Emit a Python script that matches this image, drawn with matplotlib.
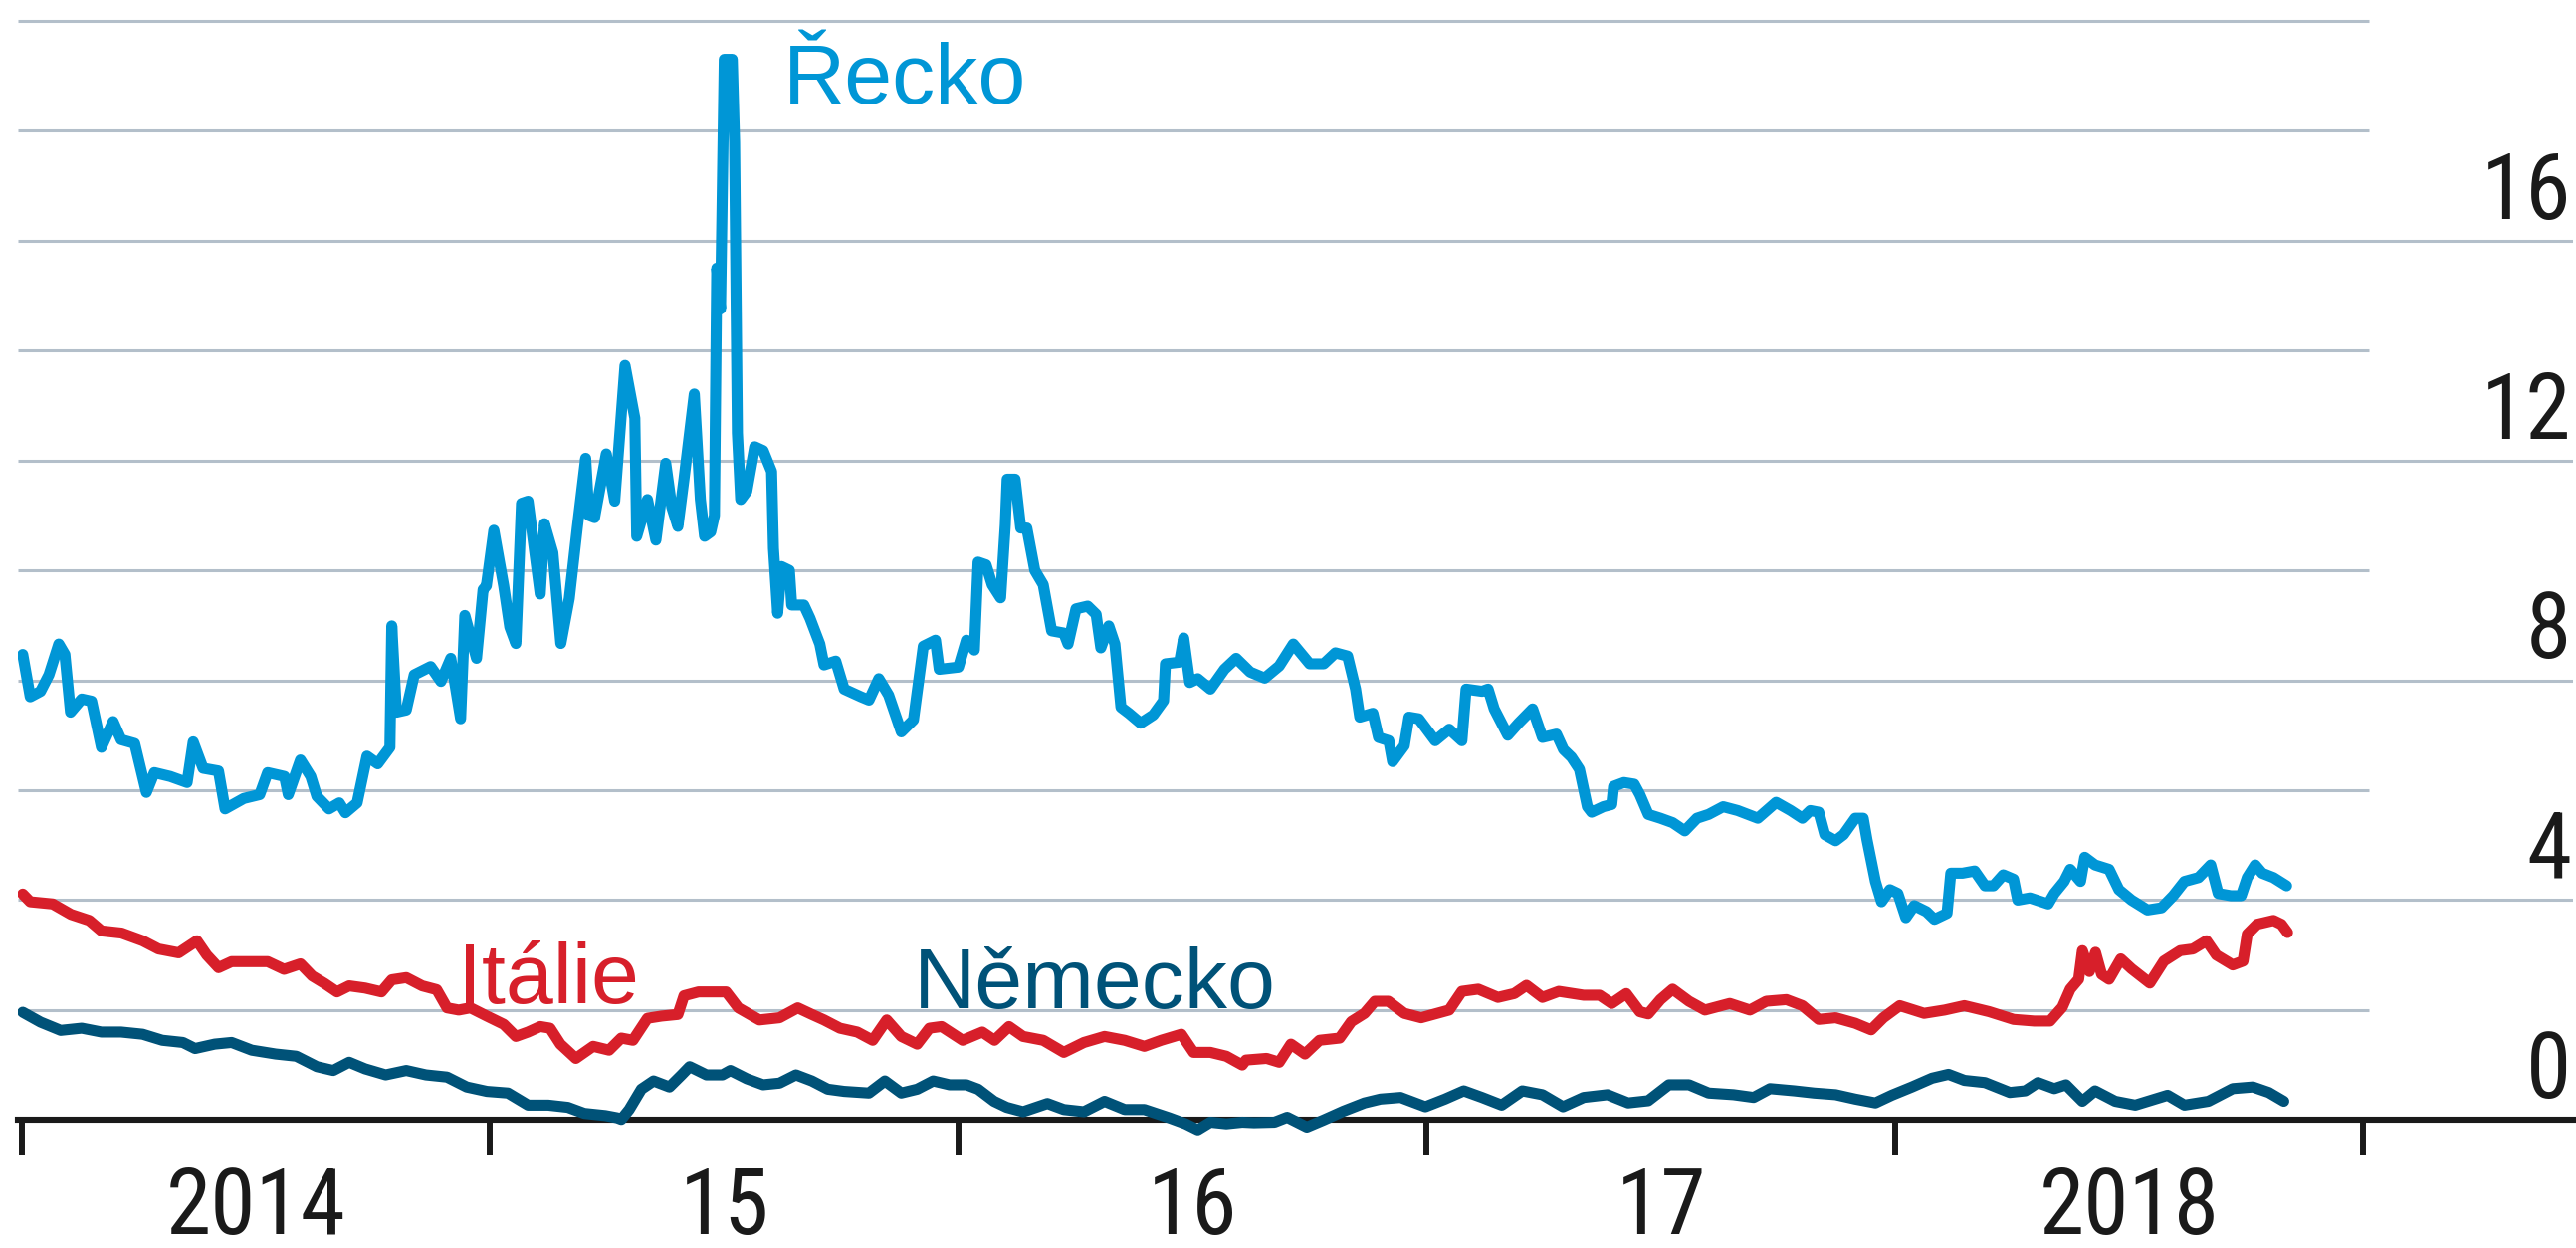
import matplotlib
matplotlib.use("Agg")
import matplotlib.pyplot as plt
from matplotlib import font_manager
from matplotlib.ticker import FixedLocator, NullFormatter, FixedFormatter

# ---------------------------------------------------------------- data
# time in years since 1 Jan 2014, yields in %
greece_t = [0.002, 0.018, 0.040, 0.058, 0.079, 0.092, 0.104, 0.128, 0.149, 0.170,
            0.195, 0.212, 0.241, 0.266, 0.283, 0.317, 0.353, 0.366, 0.387, 0.420,
            0.434, 0.474, 0.508, 0.525, 0.561, 0.569, 0.595, 0.617, 0.630, 0.656,
            0.678, 0.691, 0.716, 0.737, 0.760, 0.786, 0.790, 0.800, 0.821, 0.838,
            0.873, 0.895, 0.916, 0.937, 0.946, 0.971, 0.985, 0.992, 1.008, 1.029,
            1.042, 1.055, 1.067, 1.081, 1.107, 1.116, 1.134, 1.151, 1.169, 1.186,
            1.204, 1.211, 1.223, 1.248, 1.266, 1.288, 1.309, 1.313, 1.336, 1.354,
            1.375, 1.388, 1.401, 1.414, 1.436, 1.449, 1.458, 1.471, 1.479, 1.484,
            1.492, 1.500, 1.517, 1.522, 1.528, 1.535, 1.548, 1.565, 1.583, 1.601,
            1.605, 1.614, 1.622, 1.639, 1.644, 1.670, 1.683, 1.704, 1.713, 1.738,
            1.756, 1.792, 1.809, 1.830, 1.851, 1.878, 1.904, 1.925, 1.951, 1.959,
            2.000, 2.017, 2.034, 2.042, 2.059, 2.072, 2.090, 2.100, 2.104, 2.121,
            2.133, 2.146, 2.163, 2.181, 2.199, 2.225, 2.234, 2.251, 2.276, 2.294,
            2.304, 2.321, 2.334, 2.347, 2.364, 2.389, 2.416, 2.438, 2.442, 2.472,
            2.481, 2.494, 2.511, 2.538, 2.568, 2.593, 2.623, 2.654, 2.685, 2.715,
            2.750, 2.780, 2.805, 2.831, 2.848, 2.857, 2.885, 2.897, 2.919, 2.927,
            2.952, 2.962, 2.983, 3.018, 3.048, 3.075, 3.084, 3.118, 3.131, 3.144,
            3.173, 3.196, 3.226, 3.247, 3.277, 3.292, 3.309, 3.326, 3.343, 3.352,
            3.377, 3.395, 3.399, 3.421, 3.443, 3.455, 3.473, 3.499, 3.525, 3.551,
            3.577, 3.602, 3.633, 3.664, 3.707, 3.746, 3.777, 3.802, 3.819, 3.837,
            3.850, 3.873, 3.890, 3.915, 3.932, 3.940, 3.958, 3.971, 3.989, 4.006,
            4.023, 4.041, 4.067, 4.084, 4.111, 4.119, 4.144, 4.170, 4.192, 4.210,
            4.231, 4.253, 4.262, 4.288, 4.327, 4.340, 4.361, 4.374, 4.396, 4.405,
            4.427, 4.457, 4.478, 4.505, 4.539, 4.569, 4.594, 4.618, 4.648, 4.674,
            4.690, 4.717, 4.739, 4.752, 4.769, 4.784, 4.808, 4.836]
greece_y = [8.47, 7.70, 7.80, 8.10, 8.66, 8.47, 7.42, 7.66, 7.62, 6.78,
            7.25, 6.92, 6.85, 5.96, 6.32, 6.25, 6.14, 6.88, 6.40, 6.35,
            5.66, 5.85, 5.92, 6.32, 6.25, 5.92, 6.55, 6.25, 5.89, 5.66,
            5.77, 5.59, 5.77, 6.62, 6.48, 6.78, 8.99, 7.42, 7.46, 8.10,
            8.25, 7.98, 8.40, 7.30, 9.18, 8.40, 9.65, 9.72, 10.73, 9.72,
            8.97, 8.67, 11.22, 11.26, 9.57, 10.85, 10.32, 8.67, 9.49, 10.77,
            12.04, 11.00, 10.96, 12.12, 11.26, 13.73, 12.77, 10.62, 11.29, 10.55,
            11.95, 11.15, 10.80, 11.66, 13.21, 11.29, 10.62, 10.70, 11.00, 15.50,
            14.76, 19.30, 19.30, 17.79, 12.50, 11.29, 11.44, 12.25, 12.18, 11.80,
            10.40, 9.22, 10.07, 10.00, 9.37, 9.37, 9.13, 8.66, 8.28, 8.35,
            7.84, 7.70, 7.64, 8.03, 7.73, 7.06, 7.28, 8.62, 8.73, 8.20,
            8.24, 8.73, 8.55, 10.15, 10.10, 9.74, 9.50, 10.83, 11.66, 11.66,
            10.77, 10.77, 10.00, 9.74, 8.90, 8.86, 8.66, 9.30, 9.35, 9.20,
            8.59, 8.99, 8.66, 7.51, 7.40, 7.22, 7.37, 7.63, 8.30, 8.33,
            8.77, 7.96, 8.03, 7.84, 8.20, 8.40, 8.15, 8.04, 8.26, 8.66,
            8.30, 8.30, 8.50, 8.44, 7.84, 7.33, 7.40, 6.96, 6.90, 6.52,
            6.81, 7.33, 7.30, 6.90, 7.11, 6.90, 7.84, 7.80, 7.84, 7.48,
            7.00, 7.22, 7.48, 6.96, 7.02, 6.74, 6.60, 6.38, 5.70, 5.60,
            5.70, 5.74, 6.07, 6.14, 6.11, 5.92, 5.56, 5.49, 5.41, 5.26,
            5.49, 5.56, 5.70, 5.63, 5.49, 5.78, 5.63, 5.49, 5.63, 5.60,
            5.19, 5.08, 5.19, 5.49, 5.49, 5.10, 4.34, 3.97, 4.19, 4.12,
            3.68, 3.90, 3.79, 3.65, 3.76, 4.49, 4.49, 4.53, 4.26, 4.26,
            4.46, 4.38, 4.00, 4.04, 3.93, 4.12, 4.34, 4.56, 4.34, 4.78,
            4.64, 4.56, 4.19, 4.00, 3.82, 3.86, 4.08, 4.34, 4.41, 4.64,
            4.12, 4.08, 4.08, 4.41, 4.64, 4.49, 4.41, 4.26]

italy_t = [0.002, 0.018, 0.066, 0.105, 0.144, 0.170, 0.213, 0.258, 0.292, 0.335,
           0.374, 0.395, 0.420, 0.448, 0.491, 0.525, 0.560, 0.595, 0.620, 0.647,
           0.673, 0.699, 0.733, 0.768, 0.790, 0.821, 0.855, 0.886, 0.908, 0.933,
           0.958, 0.993, 1.029, 1.055, 1.081, 1.107, 1.128, 1.150, 1.183, 1.220,
           1.254, 1.280, 1.305, 1.336, 1.366, 1.401, 1.414, 1.445, 1.488, 1.504,
           1.530, 1.575, 1.618, 1.657, 1.687, 1.713, 1.747, 1.784, 1.817, 1.847,
           1.878, 1.912, 1.938, 1.964, 2.009, 2.051, 2.077, 2.108, 2.138, 2.181,
           2.225, 2.268, 2.312, 2.355, 2.397, 2.433, 2.476, 2.502, 2.538, 2.572,
           2.606, 2.614, 2.658, 2.685, 2.710, 2.740, 2.771, 2.814, 2.839, 2.867,
           2.889, 2.918, 2.952, 2.988, 3.022, 3.048, 3.075, 3.110, 3.152, 3.187,
           3.213, 3.247, 3.282, 3.335, 3.369, 3.395, 3.426, 3.455, 3.473, 3.499,
           3.525, 3.560, 3.594, 3.647, 3.690, 3.725, 3.768, 3.802, 3.837, 3.873,
           3.915, 3.949, 3.975, 4.010, 4.062, 4.106, 4.148, 4.201, 4.253, 4.297,
           4.331, 4.357, 4.374, 4.392, 4.400, 4.415, 4.428, 4.441, 4.457, 4.482,
           4.505, 4.544, 4.574, 4.609, 4.636, 4.665, 4.686, 4.721, 4.743, 4.752,
           4.773, 4.808, 4.825, 4.838]
italy_y = [4.11, 3.97, 3.93, 3.74, 3.63, 3.44, 3.40, 3.26, 3.11, 3.04,
           3.26, 3.00, 2.77, 2.88, 2.88, 2.88, 2.74, 2.84, 2.62, 2.48,
           2.33, 2.44, 2.40, 2.33, 2.55, 2.59, 2.44, 2.37, 2.04, 2.00,
           2.04, 1.89, 1.74, 1.52, 1.60, 1.70, 1.67, 1.38, 1.12, 1.34,
           1.27, 1.49, 1.45, 1.85, 1.89, 1.92, 2.26, 2.33, 2.33, 2.33,
           2.04, 1.82, 1.86, 2.04, 1.92, 1.82, 1.67, 1.60, 1.45, 1.82,
           1.52, 1.38, 1.67, 1.70, 1.45, 1.60, 1.45, 1.70, 1.52, 1.45,
           1.23, 1.41, 1.52, 1.45, 1.34, 1.45, 1.56, 1.23, 1.23, 1.16,
           1.00, 1.09, 1.12, 1.05, 1.38, 1.20, 1.45, 1.49, 1.79, 1.94,
           2.16, 2.16, 1.94, 1.86, 1.94, 2.00, 2.34, 2.38, 2.23, 2.30,
           2.45, 2.23, 2.34, 2.27, 2.27, 2.12, 2.30, 1.97, 1.93, 2.19,
           2.38, 2.16, 2.00, 2.12, 2.00, 2.16, 2.19, 2.08, 1.83, 1.86,
           1.76, 1.64, 1.86, 2.08, 1.94, 2.00, 2.08, 1.97, 1.83, 1.80,
           1.80, 2.05, 2.38, 2.56, 3.08, 2.70, 3.05, 2.65, 2.56, 2.93,
           2.75, 2.49, 2.89, 3.08, 3.11, 3.26, 3.00, 2.82, 2.89, 3.38,
           3.56, 3.63, 3.56, 3.41]

germany_t = [0.002, 0.040, 0.083, 0.128, 0.170, 0.212, 0.258, 0.300, 0.344, 0.370,
             0.412, 0.448, 0.491, 0.542, 0.586, 0.630, 0.665, 0.699, 0.733, 0.777,
             0.821, 0.863, 0.908, 0.950, 0.993, 1.038, 1.081, 1.124, 1.166, 1.201,
             1.246, 1.271, 1.280, 1.297, 1.323, 1.349, 1.383, 1.409, 1.426, 1.462,
             1.496, 1.513, 1.548, 1.583, 1.618, 1.653, 1.687, 1.721, 1.756, 1.809,
             1.843, 1.878, 1.912, 1.946, 1.981, 2.017, 2.042, 2.076, 2.103, 2.138,
             2.190, 2.225, 2.268, 2.312, 2.355, 2.397, 2.450, 2.485, 2.511, 2.538,
             2.572, 2.606, 2.631, 2.675, 2.702, 2.744, 2.780, 2.822, 2.867, 2.901,
             2.944, 2.997, 3.039, 3.079, 3.118, 3.160, 3.204, 3.247, 3.291, 3.335,
             3.386, 3.430, 3.473, 3.517, 3.560, 3.602, 3.655, 3.698, 3.733, 3.785,
             3.827, 3.873, 3.915, 3.958, 3.993, 4.036, 4.079, 4.114, 4.148, 4.192,
             4.245, 4.278, 4.305, 4.340, 4.365, 4.400, 4.427, 4.470, 4.513, 4.582,
             4.618, 4.669, 4.721, 4.764, 4.798, 4.830]
germany_y = [1.96, 1.78, 1.63, 1.67, 1.60, 1.60, 1.56, 1.45, 1.41, 1.30,
             1.38, 1.41, 1.27, 1.20, 1.16, 0.97, 0.90, 1.05, 0.93, 0.82,
             0.90, 0.82, 0.78, 0.60, 0.52, 0.49, 0.27, 0.27, 0.23, 0.12,
             0.08, 0.04, 0.01, 0.19, 0.56, 0.71, 0.60, 0.82, 0.97, 0.82,
             0.82, 0.90, 0.75, 0.64, 0.67, 0.82, 0.71, 0.56, 0.52, 0.49,
             0.71, 0.49, 0.56, 0.71, 0.64, 0.64, 0.56, 0.34, 0.23, 0.15,
             0.30, 0.19, 0.15, 0.34, 0.19, 0.19, 0.04, -0.07, -0.18, -0.04,
             -0.07, -0.04, -0.05, -0.04, 0.05, -0.13, 0.00, 0.16, 0.31, 0.38,
             0.41, 0.24, 0.38, 0.53, 0.41, 0.27, 0.53, 0.46, 0.24, 0.41,
             0.46, 0.31, 0.35, 0.64, 0.64, 0.49, 0.46, 0.41, 0.57, 0.53,
             0.49, 0.46, 0.38, 0.31, 0.45, 0.60, 0.76, 0.83, 0.72, 0.68,
             0.50, 0.53, 0.68, 0.57, 0.64, 0.34, 0.53, 0.34, 0.27, 0.45,
             0.27, 0.34, 0.57, 0.60, 0.50, 0.34]

year_labels = ["2014", "15", "16", "17", "2018"]
y_labels = [0, 4, 8, 12, 16]
y_grid = [2, 6, 10, 14, 18, 20]

# ---------------------------------------------------------------- style
C_GREECE = "#0096d6"
C_ITALY = "#d71f2a"
C_GERMANY = "#005278"
C_GRID = "#b3bfca"
C_INK = "#1a1a1a"

names = {f.name for f in font_manager.fontManager.ttflist}
narrow = "Liberation Sans"
for cand in ["Liberation Sans Narrow", "Roboto Condensed", "DejaVu Sans Condensed"]:
    if cand in names:
        narrow = cand
        break
plt.rcParams["font.family"] = ["Liberation Sans", "DejaVu Sans"]

X0, X1 = -0.0083, 5.4476      # axes span in years
X_SHORT = 5.012                # where the unlabelled gridlines stop

fig = plt.figure(figsize=(25.88, 12.54), dpi=100)
ax = fig.add_axes([18 / 2588, 0.063, (2585 - 18) / 2588, 0.9943 - 0.063])
ax.set_xlim(X0, X1)
ax.set_ylim(-0.9, 20.25)

# gridlines: labelled ones run to the right edge, the others stop short
for v in y_labels[1:]:
    ax.hlines(v, X0, X1, color=C_GRID, lw=2.2, zorder=1)
for v in y_grid:
    ax.hlines(v, X0, X_SHORT, color=C_GRID, lw=2.2, zorder=1)

for v in y_labels:
    ax.text(X1 - 0.004, v + 0.4, str(v), ha="right", va="baseline",
            fontsize=66, family=[narrow, "DejaVu Sans"], color=C_INK)

for t, y, c in [(germany_t, germany_y, C_GERMANY),
                (italy_t, italy_y, C_ITALY),
                (greece_t, greece_y, C_GREECE)]:
    ax.plot(t, y, color=c, lw=8, zorder=3,
            solid_joinstyle="round", solid_capstyle="round")

ax.text(1.626, 18.5, "Řecko", color=C_GREECE, fontsize=62, va="baseline")
ax.text(0.931, 2.12, "Itálie", color=C_ITALY, fontsize=62, va="baseline")
ax.text(1.905, 2.04, "Německo", color=C_GERMANY, fontsize=62, va="baseline")

# axis
for s in ["left", "right", "top"]:
    ax.spines[s].set_visible(False)
ax.spines["bottom"].set_position(("data", 0))
ax.spines["bottom"].set_linewidth(4.4)
ax.spines["bottom"].set_color(C_INK)
ax.spines["bottom"].set_zorder(2.5)
ax.set_yticks([])
ax.xaxis.set_major_locator(FixedLocator([0, 1, 2, 3, 4, 5]))
ax.xaxis.set_major_formatter(NullFormatter())
ax.xaxis.set_minor_locator(FixedLocator([0.5, 1.5, 2.5, 3.5, 4.5]))
ax.xaxis.set_minor_formatter(FixedFormatter(year_labels))
ax.tick_params(axis="x", which="major", direction="out", length=26, width=4.3,
               color=C_INK)
ax.tick_params(axis="x", which="minor", length=0, pad=32, labelsize=66,
               labelcolor=C_INK)
for lab in ax.xaxis.get_minorticklabels():
    lab.set_family([narrow, "DejaVu Sans"])

fig.savefig("out.png", dpi=100, facecolor="white")
